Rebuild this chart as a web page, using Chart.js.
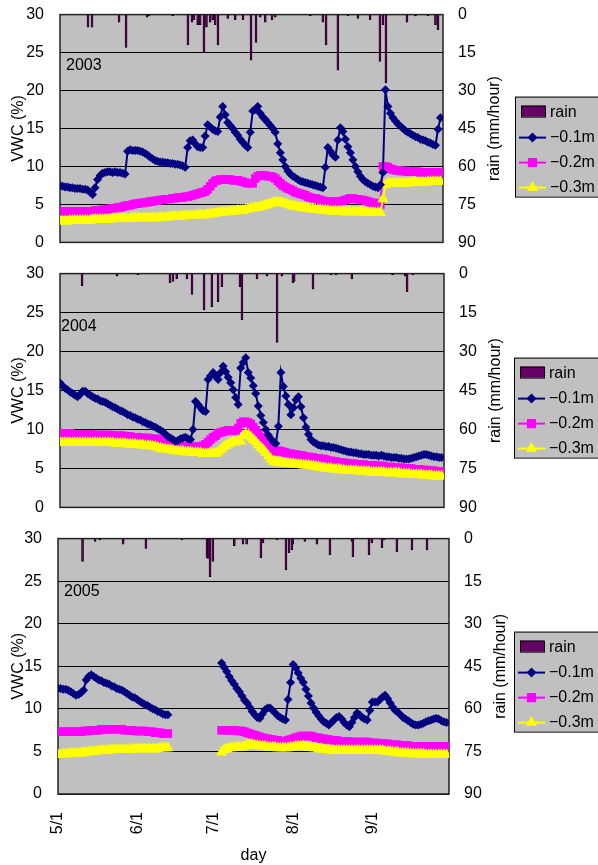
<!DOCTYPE html>
<html>
<head>
<meta charset="utf-8">
<script src="https://cdn.jsdelivr.net/npm/chart.js@4.4.0/dist/chart.umd.min.js"></script>
<style>
  body { margin: 0; background: #fff; overflow: hidden; }
  canvas { position: absolute; left: 0; }
</style>
</head>
<body>
<canvas id="c2003" width="598" height="260" style="top:0px"></canvas>
<canvas id="c2004" width="598" height="265" style="top:260px"></canvas>
<canvas id="c2005" width="598" height="340" style="top:525px"></canvas>
<script>
// x axis: day index from 5/1 (0) to 10/1 (153)
const dayTicks = [0, 31, 61, 92, 123];
const dayLabels = ['5/1', '6/1', '7/1', '8/1', '9/1'];
const seriesNames = ['rain', '−0.1m', '−0.2m', '−0.3m'];

// ---- 2003 ----
const vwc01_2003 = [
  7.5,7.4,7.3,7.3,7.2,7.2,7.1,7.1,7.1,7.0,
  7.0,6.9,6.6,6.3,7.2,8.3,8.8,9.1,9.2,9.3,
  9.3,9.2,9.3,9.2,9.2,9.1,9.0,12.0,12.2,12.1,
  12.1,12.1,12.0,11.9,11.7,11.5,11.2,11.0,10.8,10.7,
  10.6,10.6,10.5,10.5,10.4,10.4,10.3,10.3,10.2,10.1,
  9.9,12.5,13.4,13.5,13.0,12.6,12.5,12.5,14.0,15.5,
  15.2,14.9,14.7,14.6,16.5,17.9,16.8,15.8,15.4,15.0,
  14.5,14.1,13.6,13.2,12.8,12.5,14.5,17.3,17.5,17.9,
  17.0,16.5,16.2,15.8,15.4,15.0,14.5,13.0,11.8,10.9,
  10.0,9.4,9.0,8.7,8.5,8.3,8.1,8.0,7.9,7.8,
  7.7,7.6,7.5,7.4,7.3,7.2,9.9,12.5,12.0,11.5,
  11.2,13.5,15.1,14.6,13.6,12.6,11.8,10.9,10.0,9.3,
  8.7,8.3,8.0,7.8,7.6,7.4,7.3,7.2,7.6,9.2,
  20.1,17.9,17.0,16.4,16.0,15.6,15.3,15.0,14.7,14.5,
  14.3,14.1,13.9,13.8,13.6,13.5,13.4,13.2,13.1,12.9,
  12.8,14.9,16.4
];
const vwc02_2003 = [
  4.1,4.1,4.1,4.1,4.1,4.1,4.1,4.1,4.1,4.1,
  4.1,4.1,4.1,4.1,4.2,4.2,4.2,4.3,4.3,4.4,
  4.4,4.5,4.5,4.6,4.6,4.7,4.8,4.9,4.9,5.0,
  5.1,5.1,5.2,5.2,5.3,5.3,5.4,5.4,5.5,5.5,
  5.6,5.6,5.7,5.7,5.7,5.8,5.8,5.9,5.9,5.9,
  6.0,6.0,6.1,6.2,6.3,6.4,6.5,6.6,6.7,7.0,
  7.4,7.8,8.1,8.2,8.3,8.3,8.3,8.3,8.3,8.2,
  8.2,8.2,8.1,8.0,7.9,7.8,7.8,7.8,8.4,8.7,
  8.8,8.8,8.8,8.7,8.7,8.6,8.4,8.1,7.8,7.5,
  7.3,7.1,7.0,6.8,6.6,6.5,6.4,6.3,6.2,6.0,
  5.9,5.8,5.8,5.7,5.6,5.5,5.4,5.4,5.3,5.3,
  5.4,5.4,5.4,5.5,5.6,5.7,5.8,5.8,5.7,5.7,
  5.6,5.6,5.5,5.4,5.3,5.2,5.2,5.1,5.0,10.0,
  10.0,9.9,9.7,9.6,9.5,9.5,9.4,9.4,9.4,9.3,
  9.3,9.3,9.3,9.3,9.2,9.2,9.2,9.2,9.2,9.2,
  9.2,9.2,9.2
];
const vwc03_2003 = [
  2.8,2.8,2.8,2.8,2.9,2.9,2.9,2.9,2.9,2.9,
  2.9,2.9,2.9,3.0,3.0,3.0,3.0,3.0,3.0,3.0,
  3.0,3.1,3.1,3.1,3.1,3.1,3.1,3.1,3.1,3.2,
  3.2,3.2,3.2,3.2,3.2,3.2,3.2,3.2,3.2,3.2,
  3.3,3.3,3.3,3.3,3.4,3.4,3.4,3.4,3.4,3.5,
  3.5,3.5,3.5,3.5,3.5,3.6,3.6,3.6,3.6,3.7,
  3.7,3.8,3.8,3.9,3.9,4.0,4.0,4.0,4.1,4.1,
  4.1,4.2,4.2,4.2,4.3,4.4,4.5,4.5,4.6,4.6,
  4.7,4.8,4.9,5.0,5.1,5.2,5.3,5.3,5.3,5.2,
  5.1,5.0,4.9,4.8,4.7,4.7,4.6,4.6,4.5,4.5,
  4.4,4.4,4.3,4.3,4.3,4.2,4.2,4.2,4.1,4.1,
  4.1,4.1,4.1,4.1,4.0,4.0,4.0,4.0,4.0,4.0,
  4.0,4.0,4.0,3.9,3.9,3.9,3.9,3.9,3.9,5.7,
  7.6,7.8,7.8,7.8,7.8,7.8,7.8,7.8,7.8,7.8,
  7.9,7.9,7.9,7.9,7.9,7.9,7.9,8.0,8.0,8.0,
  8.0,8.0,8.0
];
const rainDay2003 = [11.2,12.8,23.6,26.4,34.8,35.5,45,51.1,52.7,53.5,55,56,57.5,58.5,60,61,62,63.1,67,70,73.1,76.3,78.3,80,82,84.7,86,100,105,106.3,111,115,119,123.9,127.8,129,130.2,138.6,142,147,150,151];
const rainMm2003 = [5,5,3,13,1,0.5,0.5,12,3,2,4,4,15,5,3,2,4,12,1.5,2,2,18,11,1,3,2,1,0.5,3,12,22,0.5,1.5,2,18.5,4,27,3,0.5,0.5,4,6];

// ---- 2004 ----
const vwc01_2004 = [
  16.0,15.6,15.3,15.1,14.8,14.6,14.4,14.2,14.5,14.9,
  14.9,14.6,14.4,14.2,14.0,13.9,13.7,13.6,13.5,13.3,
  13.1,12.9,12.8,12.6,12.4,12.3,12.1,11.9,11.8,11.6,
  11.5,11.3,11.2,11.0,10.9,10.7,10.6,10.4,10.3,10.1,
  9.9,9.7,9.4,9.1,8.9,8.7,8.5,8.6,8.8,8.9,
  9.0,8.8,8.7,10.0,13.6,13.2,12.8,12.4,12.3,16.4,
  16.9,17.3,16.8,16.4,17.3,18.1,17.4,16.7,16.0,15.1,
  14.1,13.2,17.9,18.6,19.2,17.3,16.6,15.6,14.6,13.0,
  11.8,10.9,10.0,9.3,8.8,8.4,8.2,10.4,17.3,15.5,
  14.3,13.2,11.9,12.8,13.8,14.2,12.9,11.5,10.3,9.4,
  8.7,8.4,8.2,8.0,7.9,7.9,7.8,7.8,7.7,7.7,
  7.6,7.5,7.4,7.3,7.2,7.1,7.1,7.0,7.0,6.9,
  6.9,6.8,6.8,6.8,6.7,6.7,6.7,6.6,6.7,6.6,
  6.5,6.5,6.4,6.4,6.4,6.3,6.3,6.2,6.2,6.2,
  6.3,6.4,6.5,6.6,6.7,6.8,6.8,6.7,6.6,6.5,
  6.5,6.4,6.4
];
const vwc02_2004 = [
  9.5,9.5,9.5,9.5,9.5,9.4,9.4,9.4,9.4,9.4,
  9.4,9.4,9.4,9.3,9.3,9.3,9.3,9.3,9.3,9.3,
  9.3,9.2,9.2,9.2,9.2,9.2,9.1,9.1,9.1,9.0,
  9.0,9.0,8.9,8.9,8.9,8.9,8.8,8.8,8.8,8.7,
  8.6,8.5,8.4,8.3,8.2,8.1,8.0,7.9,7.9,7.8,
  7.8,7.8,7.7,7.7,7.8,7.8,7.8,7.9,8.1,8.4,
  8.7,9.0,9.2,9.5,9.6,9.7,9.8,9.9,9.9,9.8,
  9.9,10.2,10.8,11.0,11.0,10.9,10.7,10.3,9.9,9.4,
  9.0,8.7,8.3,7.8,7.4,7.2,7.2,7.3,7.2,7.1,
  7.0,6.9,6.9,6.8,6.8,6.7,6.7,6.6,6.5,6.5,
  6.4,6.4,6.3,6.3,6.2,6.2,6.1,6.0,6.0,5.9,
  5.9,5.8,5.8,5.7,5.7,5.6,5.6,5.6,5.5,5.5,
  5.5,5.5,5.4,5.4,5.4,5.4,5.4,5.3,5.3,5.3,
  5.2,5.2,5.2,5.1,5.1,5.1,5.1,5.0,5.0,5.0,
  5.0,4.9,4.9,4.9,4.8,4.8,4.8,4.7,4.7,4.7,
  4.6,4.6,4.6
];
const vwc03_2004 = [
  8.3,8.3,8.3,8.3,8.3,8.3,8.3,8.3,8.3,8.3,
  8.3,8.3,8.3,8.3,8.3,8.3,8.3,8.3,8.3,8.3,
  8.3,8.3,8.2,8.2,8.2,8.2,8.2,8.1,8.1,8.1,
  8.1,8.0,8.0,8.0,7.9,7.9,7.9,7.8,7.8,7.7,
  7.6,7.5,7.5,7.4,7.4,7.3,7.3,7.2,7.2,7.2,
  7.1,7.1,7.1,7.0,7.0,7.0,7.0,6.9,6.9,6.9,
  6.9,6.9,6.9,7.1,7.4,7.7,7.9,8.1,8.3,8.4,
  8.4,8.5,8.5,9.2,9.4,9.3,9.0,8.7,8.4,8.0,
  7.7,7.4,7.0,6.6,6.2,5.9,5.8,5.8,5.7,5.7,
  5.7,5.6,5.6,5.6,5.5,5.5,5.5,5.4,5.4,5.4,
  5.3,5.3,5.2,5.2,5.1,5.1,5.0,5.0,5.0,4.9,
  4.9,4.9,4.8,4.8,4.7,4.7,4.7,4.7,4.7,4.6,
  4.6,4.6,4.6,4.6,4.5,4.5,4.5,4.5,4.5,4.5,
  4.4,4.4,4.4,4.4,4.4,4.4,4.3,4.3,4.3,4.3,
  4.2,4.2,4.2,4.2,4.2,4.1,4.1,4.1,4.1,4.0,
  4.0,4.0,4.0
];
const rainDay2004 = [8.8,22.7,31,43.8,45,46.5,50.6,52.6,57.4,60.5,63,64.5,71.7,72.5,78.5,82.5,86.5,88.4,92.8,93.3,100.8,108,110,116.3,132.5,137.5,138.3,140.6];
const rainMm2004 = [4.6,1,0.5,3.5,3,2,2,8,14,12.7,10.8,5,5,17.7,2,1,26.5,1,3.5,3,6,0.5,0.5,2,0.5,1,7,0.5];

// ---- 2005 ----
const vwc01_2005 = [
  12.4,12.4,12.3,12.3,12.2,12.0,11.8,11.6,11.7,11.9,
  12.2,13.4,13.8,14.0,13.8,13.6,13.4,13.3,13.1,13.0,
  12.9,12.7,12.6,12.4,12.3,12.2,12.0,11.8,11.6,11.4,
  11.3,11.1,10.9,10.7,10.5,10.4,10.2,10.0,9.9,9.7,
  9.6,9.4,9.3,9.3,null,null,null,null,null,null,
  null,null,null,null,null,null,null,null,null,null,
  null,null,null,null,15.4,14.9,14.4,13.8,13.3,12.9,
  12.4,12.0,11.5,11.0,10.7,10.2,9.7,9.3,9.0,8.9,
  9.4,9.9,10.1,10.1,9.8,9.5,9.2,9.0,8.8,8.7,
  11.1,13.1,15.2,14.8,14.2,13.6,13.1,12.3,11.5,10.7,
  10.1,9.6,9.2,8.8,8.5,8.3,8.1,8.4,8.7,9.0,
  9.1,8.8,8.4,8.1,7.9,8.4,9.0,9.5,9.3,9.0,
  8.8,8.7,9.8,10.8,10.8,10.8,11.1,11.4,11.6,11.2,
  10.7,10.2,9.8,9.6,9.3,9.0,8.8,8.6,8.4,8.2,
  8.1,8.1,8.2,8.3,8.5,8.6,8.7,8.8,8.9,8.8,
  8.6,8.5,8.4
];
const vwc02_2005 = [
  7.3,7.3,7.3,7.3,7.3,7.3,7.3,7.3,7.3,7.3,
  7.4,7.4,7.4,7.5,7.5,7.5,7.5,7.6,7.6,7.6,
  7.6,7.6,7.6,7.6,7.6,7.6,7.5,7.5,7.5,7.5,
  7.4,7.4,7.4,7.4,7.4,7.3,7.3,7.3,7.2,7.2,
  7.2,7.1,7.1,7.1,null,null,null,null,null,null,
  null,null,null,null,null,null,null,null,null,null,
  null,null,null,null,7.5,7.5,7.5,7.5,7.5,7.5,
  7.4,7.4,7.4,7.3,7.2,7.1,7.0,6.9,6.8,6.7,
  6.6,6.5,6.5,6.4,6.4,6.3,6.3,6.2,6.2,6.2,
  6.3,6.4,6.5,6.6,6.7,6.8,6.8,6.8,6.8,6.8,
  6.7,6.6,6.6,6.5,6.5,6.4,6.4,6.3,6.3,6.3,
  6.2,6.2,6.2,6.2,6.1,6.1,6.1,6.1,6.0,6.1,
  6.1,6.1,6.0,6.0,6.0,6.0,5.9,5.9,5.9,5.9,
  5.8,5.8,5.8,5.8,5.7,5.7,5.7,5.7,5.6,5.6,
  5.6,5.6,5.6,5.6,5.6,5.6,5.6,5.6,5.6,5.6,
  5.6,5.6,5.6
];
const vwc03_2005 = [
  4.6,4.6,4.7,4.7,4.7,4.8,4.8,4.8,4.8,4.8,
  4.9,4.9,4.9,5.0,5.0,5.0,5.1,5.1,5.1,5.1,
  5.1,5.2,5.2,5.2,5.2,5.2,5.2,5.2,5.2,5.3,
  5.3,5.3,5.3,5.3,5.3,5.3,5.3,5.3,5.3,5.3,
  5.4,5.4,5.4,5.4,null,null,null,null,null,null,
  null,null,null,null,null,null,null,null,null,null,
  null,null,null,null,4.9,5.2,5.3,5.4,5.4,5.5,
  5.5,5.5,5.5,5.6,5.7,5.8,5.8,5.7,5.7,5.6,
  5.6,5.6,5.5,5.5,5.5,5.5,5.4,5.4,5.4,5.4,
  5.4,5.5,5.5,5.6,5.6,5.6,5.6,5.5,5.5,5.5,
  5.4,5.4,5.3,5.3,5.2,5.2,5.2,5.1,5.1,5.1,
  5.1,5.1,5.1,5.1,5.1,5.1,5.1,5.1,5.1,5.1,
  5.1,5.1,5.1,5.1,5.1,5.1,5.1,5.1,5.0,5.0,
  5.0,4.9,4.9,4.9,4.8,4.8,4.8,4.8,4.7,4.7,
  4.7,4.7,4.7,4.7,4.6,4.6,4.6,4.6,4.6,4.6,
  4.6,4.6,4.6
];
const rainDay2005 = [9.6,14.5,16.4,25.5,34.4,48.5,58.3,58.8,59.5,60.6,69,72.4,73.8,79.4,80.2,85.7,89.2,90.4,91.5,91.9,96.6,101.3,106.4,115,115.4,121.7,122.8,126.8,127.6,132.6,138.5,144.4];
const rainMm2005 = [8,1,0.5,2,3.5,0.5,6.7,7,13.4,8,2.5,2,2,6.7,1.5,0.5,11,5,4,2,1,2,5.7,1,6.4,5.7,1.5,3.2,0.5,4.6,4,4];

const FONT = "'Liberation Sans', Arial, sans-serif";
const RAIN_COLOR = '#660066';
const COLORS = ['#000080', '#ff00ff', '#ffff00'];
const STYLES = ['rectRot', 'rect', 'triangle'];
const RADII = [4.5, 6, 6.5];

Chart.defaults.font.family = FONT;
Chart.defaults.font.size = 16;
Chart.defaults.color = '#000';

// page geometry of each panel (plot box, legend box, year label), page pixels
const panels = [
  { id: 'c2003', year: '2003', top: 0, plotTop: 15, plotBottom: 243, plotLeft: 60, plotRight: 443,
    yearX: 66, yearY: 66, legendX: 515, legendY: 97, showX: false,
    series: [vwc01_2003, vwc02_2003, vwc03_2003], rainDay: rainDay2003, rainMm: rainMm2003 },
  { id: 'c2004', year: '2004', top: 260, plotTop: 274, plotBottom: 508, plotLeft: 60, plotRight: 444,
    yearX: 61, yearY: 327, legendX: 514, legendY: 358, showX: false,
    series: [vwc01_2004, vwc02_2004, vwc03_2004], rainDay: rainDay2004, rainMm: rainMm2004 },
  { id: 'c2005', year: '2005', top: 525, plotTop: 539, plotBottom: 794, plotLeft: 58, plotRight: 449,
    yearX: 64, yearY: 592, legendX: 514, legendY: 632, showX: true,
    series: [vwc01_2005, vwc02_2005, vwc03_2005], rainDay: rainDay2005, rainMm: rainMm2005 }
];

function marker(ctx, style, x, y, r) {
  ctx.beginPath();
  if (style === 'rectRot') {
    ctx.moveTo(x, y - r); ctx.lineTo(x + r, y); ctx.lineTo(x, y + r); ctx.lineTo(x - r, y);
  } else if (style === 'rect') {
    const s = r * Math.SQRT1_2;
    ctx.rect(x - s, y - s, 2 * s, 2 * s);
  } else {
    ctx.moveTo(x, y - r);
    ctx.lineTo(x + r * 0.866, y + r / 2);
    ctx.lineTo(x - r * 0.866, y + r / 2);
  }
  ctx.closePath();
  ctx.fill();
}

const panelDecor = {
  id: 'panelDecor',
  beforeDraw(chart) {
    const { ctx, chartArea: a } = chart;
    ctx.save();
    ctx.fillStyle = '#c0c0c0';
    ctx.fillRect(a.left, a.top, a.right - a.left, a.bottom - a.top);
    ctx.restore();
  },
  beforeDatasetsDraw(chart) {
    const { ctx, chartArea: a } = chart;
    ctx.save();
    ctx.strokeStyle = '#222';
    ctx.lineWidth = 1.5;
    ctx.strokeRect(a.left, a.top, a.right - a.left, a.bottom - a.top);
    ctx.restore();
  },
  afterDraw(chart, args, o) {
    const { ctx, chartArea: a } = chart;
    const p = o.panel;
    const dy = -p.canvasTop;
    ctx.save();
    ctx.font = '16px ' + FONT;
    ctx.fillStyle = '#000';
    ctx.textBaseline = 'middle';
    ctx.textAlign = 'left';
    ctx.fillText(p.year, p.yearX, p.yearY + dy);

    // right axis title, reads bottom to top
    ctx.save();
    ctx.translate(p.plotRight + 52, (a.top + a.bottom) / 2);
    ctx.rotate(-Math.PI / 2);
    ctx.textAlign = 'center';
    ctx.fillText('rain (mm/hour)', 0, 0);
    ctx.restore();

    // legend box
    const lx = p.legendX, ly = p.legendY + dy;
    ctx.fillStyle = '#c0c0c0';
    ctx.fillRect(lx, ly, 100, 100);
    ctx.strokeStyle = '#000';
    ctx.lineWidth = 1;
    ctx.strokeRect(lx + 0.5, ly + 0.5, 100, 100);

    ctx.fillStyle = RAIN_COLOR;
    ctx.fillRect(lx + 6, ly + 9, 24, 11);
    ctx.strokeRect(lx + 6.5, ly + 9.5, 24, 11);
    ctx.fillStyle = '#000';
    ctx.fillText(seriesNames[0], lx + 35, ly + 16);

    for (let i = 0; i < 3; i++) {
      const ry = ly + 41 + i * 25;
      ctx.strokeStyle = COLORS[i];
      ctx.lineWidth = 2;
      ctx.beginPath();
      ctx.moveTo(lx + 4, ry);
      ctx.lineTo(lx + 31, ry);
      ctx.stroke();
      ctx.fillStyle = COLORS[i];
      marker(ctx, STYLES[i], lx + 17.5, ry, STYLES[i] === 'rectRot' ? 5 : 6.5);
      ctx.fillStyle = '#000';
      ctx.fillText(seriesNames[i + 1], lx + 35, ry);
    }
    ctx.restore();
  }
};

function makeConfig(p) {
  const lineSets = p.series.map((vals, i) => ({
    type: 'line',
    label: seriesNames[i + 1],
    data: vals.map((v, d) => ({ x: d, y: v })),
    yAxisID: 'vwc',
    borderColor: COLORS[i],
    backgroundColor: COLORS[i],
    borderWidth: 2,
    pointStyle: STYLES[i],
    pointRadius: RADII[i],
    pointBorderWidth: 0,
    spanGaps: false,
    tension: 0,
    order: [0, 2, 1][i]
  }));
  // only the bottom panel shows the date axis; the others give it no room
  const xAxisHeight = p.showX ? 865 - p.plotBottom : 0;
  return {
    type: 'line',
    data: {
      datasets: [{
        type: 'bar',
        label: seriesNames[0],
        data: p.rainDay.map((d, i) => ({ x: d, y: p.rainMm[i] })),
        yAxisID: 'rain',
        backgroundColor: RAIN_COLOR,
        borderColor: '#000',
        borderWidth: 0.7,
        barThickness: 2,
        order: 3
      }, ...lineSets]
    },
    options: {
      responsive: false,
      maintainAspectRatio: false,
      devicePixelRatio: 1,
      animation: false,
      events: [],
      layout: { padding: { top: 12, bottom: p.showX ? 0 : 12, left: 0, right: 0 } },
      plugins: {
        legend: { display: false },
        tooltip: { enabled: false },
        panelDecor: { panel: p }
      },
      scales: {
        x: {
          type: 'linear',
          min: 0,
          max: 153,
          offset: false,
          display: p.showX,
          afterBuildTicks: s => { s.ticks = dayTicks.map(v => ({ value: v })); },
          afterFit: s => { s.height = xAxisHeight; },
          ticks: {
            autoSkip: false,
            minRotation: 90,
            maxRotation: 90,
            padding: 18,
            callback: v => dayLabels[dayTicks.indexOf(v)] ?? ''
          },
          grid: { display: false, drawTicks: false },
          border: { display: false },
          title: { display: true, text: 'day', padding: { top: 0, bottom: 0 } }
        },
        vwc: {
          type: 'linear',
          position: 'left',
          min: 0,
          max: 30,
          afterFit: s => { s.width = p.plotLeft; },
          ticks: { stepSize: 5, padding: 16 },
          grid: { color: '#000', lineWidth: 1, drawTicks: false },
          border: { display: false },
          title: { display: true, text: 'VWC (%)', padding: { top: 9, bottom: 0 } }
        },
        rain: {
          type: 'linear',
          position: 'right',
          reverse: true,
          min: 0,
          max: 90,
          afterFit: s => { s.width = 598 - p.plotRight; },
          ticks: { stepSize: 15, padding: 15 },
          grid: { display: false, drawTicks: false },
          border: { display: false }
        }
      }
    },
    plugins: [panelDecor]
  };
}

panels.forEach(p => {
  const canvas = document.getElementById(p.id);
  p.canvasTop = p.top;
  // first pass: see where Chart.js puts the plot box, then size and place the canvas so it lands on the reference box
  let chart = new Chart(canvas, makeConfig(p));
  const a = chart.chartArea;
  const wantH = p.plotBottom - p.plotTop;
  const newHeight = canvas.height + Math.round(wantH - (a.bottom - a.top));
  const offsetTop = a.top;
  chart.destroy();
  canvas.width = 598;
  canvas.height = newHeight;
  p.canvasTop = p.plotTop - offsetTop;
  canvas.style.top = p.canvasTop + 'px';
  canvas.style.height = newHeight + 'px';
  canvas.style.width = '598px';
  chart = new Chart(canvas, makeConfig(p));
});
</script>
</body>
</html>
